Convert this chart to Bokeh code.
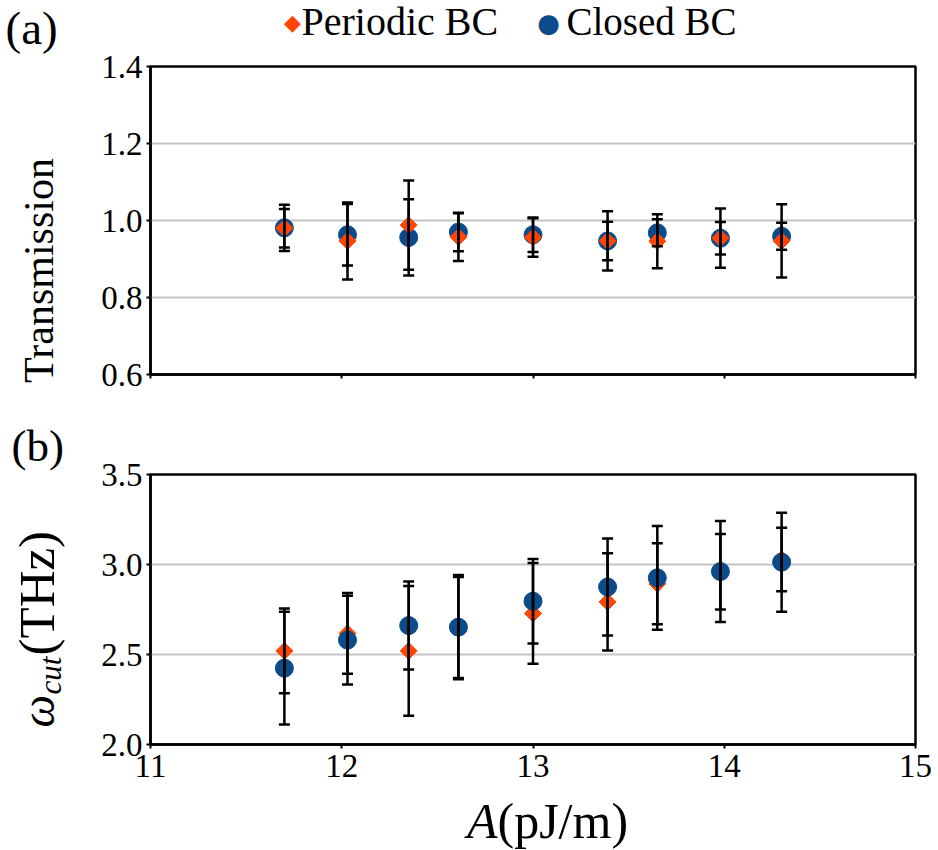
import numpy as np
from bokeh.plotting import figure
from bokeh.models import (ColumnDataSource, Whisker, TeeHead, FixedTicker,
                          NumeralTickFormatter, Label, Range1d)
from bokeh.layouts import column, row
from bokeh.embed import file_html
from bokeh.resources import INLINE

# ---------------- data ----------------
A_values = [11.70, 12.03, 12.35, 12.61, 13.00, 13.39, 13.65, 13.98, 14.30]

trans_periodic     = [0.980, 0.947, 0.988, 0.957, 0.956, 0.947, 0.946, 0.954, 0.947]
trans_periodic_err = [0.050, 0.100, 0.116, 0.062, 0.050, 0.050, 0.070, 0.042, 0.095]
trans_closed       = [0.981, 0.963, 0.956, 0.970, 0.963, 0.947, 0.968, 0.954, 0.959]
trans_closed_err   = [0.060, 0.080, 0.099, 0.050, 0.045, 0.077, 0.035, 0.077, 0.035]

wcut_periodic      = [2.520, 2.617, 2.520, 2.650, 2.728, 2.792, 2.893, 2.960, 3.028]
wcut_periodic_err  = [0.235, 0.224, 0.360, 0.280, 0.280, 0.270, 0.225, 0.210, 0.176]
wcut_closed        = [2.424, 2.580, 2.661, 2.652, 2.796, 2.875, 2.926, 2.961, 3.013]
wcut_closed_err    = [0.313, 0.247, 0.245, 0.290, 0.235, 0.270, 0.288, 0.280, 0.275]

x_ticks = [11, 12, 13, 14, 15]
trans_ticks = [0.6, 0.8, 1.0, 1.2, 1.4]
wcut_ticks = [2.0, 2.5, 3.0, 3.5]

series_names = ["Periodic BC", "Closed BC"]
panel_labels = ["(a)", "(b)"]

# ---------------- style / layout ----------------
FONT = "Liberation Serif"
ORANGE = "#ff4500"
BLUE = "#0b4a8b"
W, H = 938, 850
LW = 90                 # left text strip width
MW = W - LW             # main column width
FRAME_L, FRAME_R = 150, 915
H_TOP = 46              # legend strip
H_PA = 374              # panel (a) figure: page y 46..420
H_PB = 372              # panel (b) figure: page y 420..792
H_BOT = H - H_TOP - H_PA - H_PB   # 58, x-title strip


def fx(sx):
    # page x pixel -> data x (frames of the main column are aligned 150..915)
    return 11 + (sx - FRAME_L) * 4.0 / (FRAME_R - FRAME_L)


def text_fig(w, h, xr):
    p = figure(width=w, height=h, x_range=xr, y_range=Range1d(0, h),
               output_backend="svg", toolbar_location=None,
               x_axis_type=None, y_axis_type=None,
               min_border=0, min_border_left=0, min_border_right=0,
               min_border_top=0, min_border_bottom=0)
    p.outline_line_color = None
    p.xgrid.visible = False
    p.ygrid.visible = False
    p.background_fill_color = "white"
    p.border_fill_color = "white"
    return p


def lab(p, h, x, sy, text, size, font=FONT, color="black", align="left",
        angle=0.0, style="normal"):
    # x in the strip's x units, sy: pixels from the strip's top
    p.add_layout(Label(x=x, y=h - sy, text=text, text_font=font,
                       text_font_size=size, text_color=color, text_align=align,
                       text_baseline="middle", angle=angle,
                       text_font_style=style))


def make_fig(h, top, bottom, yr, yticks, show_xlabels):
    p = figure(width=MW, height=h, x_range=Range1d(11, 15), y_range=Range1d(*yr),
               output_backend="svg", toolbar_location=None,
               min_border_left=FRAME_L - LW, min_border_right=W - FRAME_R,
               min_border_top=top, min_border_bottom=bottom)
    p.background_fill_color = "white"
    p.border_fill_color = "white"
    p.outline_line_color = "black"
    p.outline_line_width = 2.5
    p.xgrid.visible = False
    p.ygrid.grid_line_color = "#c4c4c4"
    p.ygrid.grid_line_width = 2
    p.yaxis.ticker = FixedTicker(ticks=yticks)
    p.yaxis.formatter = NumeralTickFormatter(format="0.0")
    p.xaxis.ticker = FixedTicker(ticks=x_ticks)
    for ax in p.axis:
        ax.axis_line_color = "black"
        ax.axis_line_width = 2.5
        ax.major_tick_line_color = "black"
        ax.major_tick_line_width = 2
        ax.major_tick_in = 0
        ax.major_tick_out = 4
        ax.minor_tick_line_color = None
        ax.major_label_text_font = FONT
        ax.major_label_text_font_size = "33px"
        ax.major_label_text_color = "black"
    p.yaxis.major_label_standoff = 4
    p.xaxis.major_label_standoff = 6
    if not show_xlabels:
        p.xaxis.major_label_overrides = {t: "" for t in x_ticks}
    return p


def add_err(p, x, y, e):
    src = ColumnDataSource(dict(x=x, lower=[a - b for a, b in zip(y, e)],
                                upper=[a + b for a, b in zip(y, e)]))
    w = Whisker(source=src, base="x", lower="lower", upper="upper",
                line_color="black", line_width=2.5, level="overlay")
    w.upper_head = TeeHead(size=11, line_color="black", line_width=2.5)
    w.lower_head = TeeHead(size=11, line_color="black", line_width=2.5)
    p.add_layout(w)


# ---------------- panel (a) ----------------
pa = make_fig(H_PA, 66 - H_TOP, H_TOP + H_PA - 374, (0.6, 1.4), trans_ticks, False)
pa.scatter(A_values, trans_closed, marker="circle", size=18, color=BLUE)
pa.scatter(A_values, trans_periodic, marker="square", angle=np.pi / 4, size=12,
           color=ORANGE)
add_err(pa, A_values, trans_periodic, trans_periodic_err)
add_err(pa, A_values, trans_closed, trans_closed_err)

# ---------------- panel (b) ----------------
pb_top = 474 - (H_TOP + H_PA)
pb_bottom = (H_TOP + H_PA + H_PB) - 744
pb = make_fig(H_PB, pb_top, pb_bottom, (2.0, 3.5), wcut_ticks, True)
pb.scatter(A_values, wcut_periodic, marker="square", angle=np.pi / 4, size=12,
           color=ORANGE)
pb.scatter(A_values, wcut_closed, marker="circle", size=18, color=BLUE)
add_err(pb, A_values, wcut_periodic, wcut_periodic_err)
add_err(pb, A_values, wcut_closed, wcut_closed_err)

# ---------------- legend strip (top) ----------------
top = text_fig(MW, H_TOP, Range1d(11, 15))
lab(top, H_TOP, fx(292), 22, "\u25c6", "22px", font="DejaVu Sans",
    color=ORANGE, align="center")
lab(top, H_TOP, fx(301), 21, series_names[0], "40px")
lab(top, H_TOP, fx(548), 22, "\u25cf", "26px", font="DejaVu Sans",
    color=BLUE, align="center")
lab(top, H_TOP, fx(566), 21, series_names[1], "39px")

# ---------------- x-title strip (bottom) ----------------
y0_bot = H_TOP + H_PA + H_PB
bot = text_fig(MW, H_BOT, Range1d(11, 15))
lab(bot, H_BOT, fx(497), 820 - y0_bot, "A", "50px", align="right", style="italic")
lab(bot, H_BOT, fx(497), 820 - y0_bot, "(pJ/m)", "50px", align="left")

# ---------------- left strip (full height) ----------------
left = text_fig(LW, H, Range1d(0, LW))
lab(left, H, 5, 27, panel_labels[0], "47px")
lab(left, H, 38, 270, "Transmission", "42px", align="center", angle=np.pi / 2)
lab(left, H, 11, 445, panel_labels[1], "45px")
lab(left, H, 37.5, 727, "\u03c9", "46px", angle=np.pi / 2, style="italic")
lab(left, H, 49.5, 694, "cut", "31px", angle=np.pi / 2, style="italic")
lab(left, H, 36, 655, "(THz)", "51px", angle=np.pi / 2)

layout = row(left, column(top, pa, pb, bot, spacing=0), spacing=0)
open("out.html", "w").write(file_html(layout, INLINE))
